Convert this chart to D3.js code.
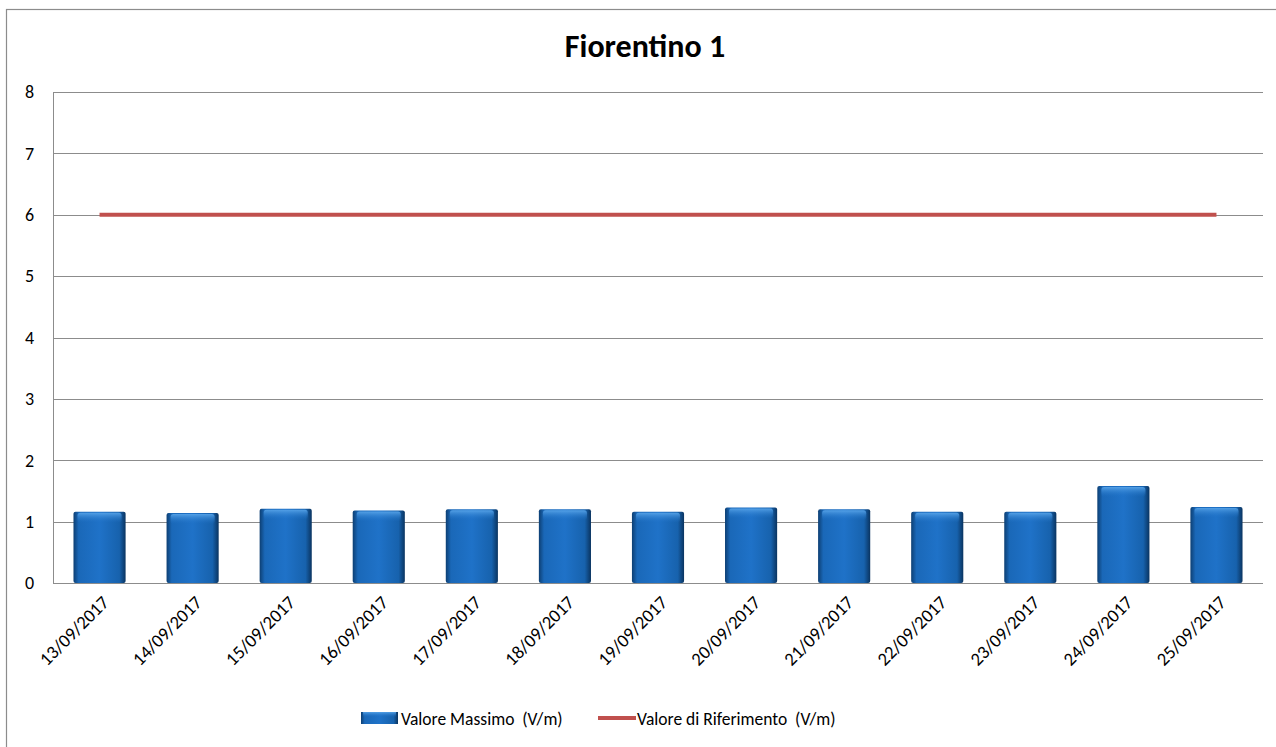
<!DOCTYPE html>
<html>
<head>
<meta charset="utf-8">
<script src="https://cdn.jsdelivr.net/npm/d3@7"></script>
<style>
  body { margin: 0; background: #fff; }
  svg { display: block; font-family: Carlito, Lato, "Open Sans", sans-serif; }
</style>
</head>
<body>
<script>
// data
const dates = ["13/09/2017", "14/09/2017", "15/09/2017", "16/09/2017", "17/09/2017",
    "18/09/2017", "19/09/2017", "20/09/2017", "21/09/2017", "22/09/2017",
    "23/09/2017", "24/09/2017", "25/09/2017"]
const maxValues = [1.16, 1.14, 1.21, 1.18, 1.2, 1.2, 1.16, 1.23, 1.2, 1.16, 1.16, 1.58, 1.24]
const refValues = [6, 6, 6, 6, 6, 6, 6, 6, 6, 6, 6, 6, 6]
const yTicks = [0, 1, 2, 3, 4, 5, 6, 7, 8]
const seriesNames = ["Valore Massimo  (V/m)", "Valore di Riferimento  (V/m)"]

const width = 1276, height = 747
const margin = {top: 92, right: 13, bottom: 164, left: 53}

const svg = d3.select("body").append("svg")
    .attr("width", width)
    .attr("height", height)

// outer chart border
svg.append("rect")
    .attr("x", 6.5).attr("y", 9.5)
    .attr("width", 1300).attr("height", 800)
    .attr("fill", "none")
    .attr("stroke", "#8c8c8c")
    .attr("stroke-width", 1.2)

const defs = svg.append("defs")
const grad = defs.append("linearGradient").attr("id", "barGrad")
    .attr("x1", 0).attr("x2", 1).attr("y1", 0).attr("y2", 0)
grad.append("stop").attr("offset", "0%").attr("stop-color", "#0d3f73")
grad.append("stop").attr("offset", "10%").attr("stop-color", "#1a68b8")
grad.append("stop").attr("offset", "50%").attr("stop-color", "#1f72c8")
grad.append("stop").attr("offset", "88%").attr("stop-color", "#1762ad")
grad.append("stop").attr("offset", "100%").attr("stop-color", "#0a3460")

const vgrad = defs.append("linearGradient").attr("id", "barShade")
    .attr("x1", 0).attr("x2", 0).attr("y1", 0).attr("y2", 1)
vgrad.append("stop").attr("offset", "0%").attr("stop-color", "#5aa6ea").attr("stop-opacity", 0.9)
vgrad.append("stop").attr("offset", "100%").attr("stop-color", "#1f72c8").attr("stop-opacity", 0)

const x = d3.scaleBand()
    .domain(dates)
    .range([margin.left, width - margin.right])
    .paddingInner(0.44)
    .paddingOuter(0.22)

const y = d3.scaleLinear()
    .domain([0, 8])
    .range([height - margin.bottom, margin.top])

// gridlines
svg.append("g")
    .selectAll("line")
    .data(yTicks)
    .join("line")
    .attr("x1", margin.left)
    .attr("x2", width - margin.right)
    .attr("y1", d => Math.round(y(d)) + 0.5)
    .attr("y2", d => Math.round(y(d)) + 0.5)
    .attr("stroke", "#8c8c8c")
    .attr("stroke-width", 1)

// y axis line
svg.append("line")
    .attr("x1", margin.left + 0.5).attr("x2", margin.left + 0.5)
    .attr("y1", margin.top).attr("y2", y(0))
    .attr("stroke", "#8c8c8c")

// y labels
svg.append("g")
    .selectAll("text")
    .data(yTicks)
    .join("text")
    .attr("x", 34)
    .attr("y", d => y(d))
    .attr("dy", "0.35em")
    .attr("text-anchor", "end")
    .attr("font-size", 18)
    .attr("fill", "#000")
    .text(d => d)

// bars
const bars = svg.append("g")
    .selectAll("g")
    .data(dates.map((d, i) => ({date: d, value: maxValues[i]})))
    .join("g")

bars.append("rect")
    .attr("x", d => x(d.date))
    .attr("y", d => y(d.value))
    .attr("width", x.bandwidth())
    .attr("height", d => y(0) - y(d.value))
    .attr("rx", 2)
    .attr("fill", "url(#barGrad)")

bars.append("rect")
    .attr("x", d => x(d.date) + 4)
    .attr("y", d => y(d.value) + 1)
    .attr("width", x.bandwidth() - 8)
    .attr("height", 10)
    .attr("rx", 3)
    .attr("fill", "url(#barShade)")

// reference line
const line = d3.line()
    .x((d, i) => x(dates[i]) + x.bandwidth() / 2)
    .y(d => y(d))

svg.append("path")
    .attr("d", line(refValues))
    .attr("fill", "none")
    .attr("stroke", "#c0504d")
    .attr("stroke-width", 4)

// x labels
svg.append("g")
    .selectAll("text")
    .data(dates)
    .join("text")
    .attr("transform", d => `translate(${x(d) + x.bandwidth() / 2 + 6},${y(0) + 16}) rotate(-45)`)
    .attr("text-anchor", "end")
    .attr("dy", "0.35em")
    .attr("font-size", 18.5)
    .attr("fill", "#000")
    .text(d => d)

// title
svg.append("text")
    .attr("x", 645)
    .attr("y", 57)
    .attr("text-anchor", "middle")
    .attr("font-size", 32)
    .attr("font-weight", "bold")
    .text("Fiorentino 1")

// legend
const legend = svg.append("g")
legend.append("rect")
    .attr("x", 361).attr("y", 712)
    .attr("width", 37).attr("height", 12)
    .attr("fill", "url(#barGrad)")
legend.append("rect")
    .attr("x", 363).attr("y", 712)
    .attr("width", 33).attr("height", 5)
    .attr("fill", "url(#barShade)")
legend.append("text")
    .attr("x", 401).attr("y", 719)
    .attr("dy", "0.35em")
    .attr("font-size", 17.5)
    .style("white-space", "pre")
    .text(seriesNames[0])

legend.append("line")
    .attr("x1", 598).attr("x2", 636)
    .attr("y1", 718).attr("y2", 718)
    .attr("stroke", "#c0504d")
    .attr("stroke-width", 4)
legend.append("text")
    .attr("x", 637).attr("y", 719)
    .attr("dy", "0.35em")
    .attr("font-size", 17.5)
    .style("white-space", "pre")
    .text(seriesNames[1])
</script>
</body>
</html>
